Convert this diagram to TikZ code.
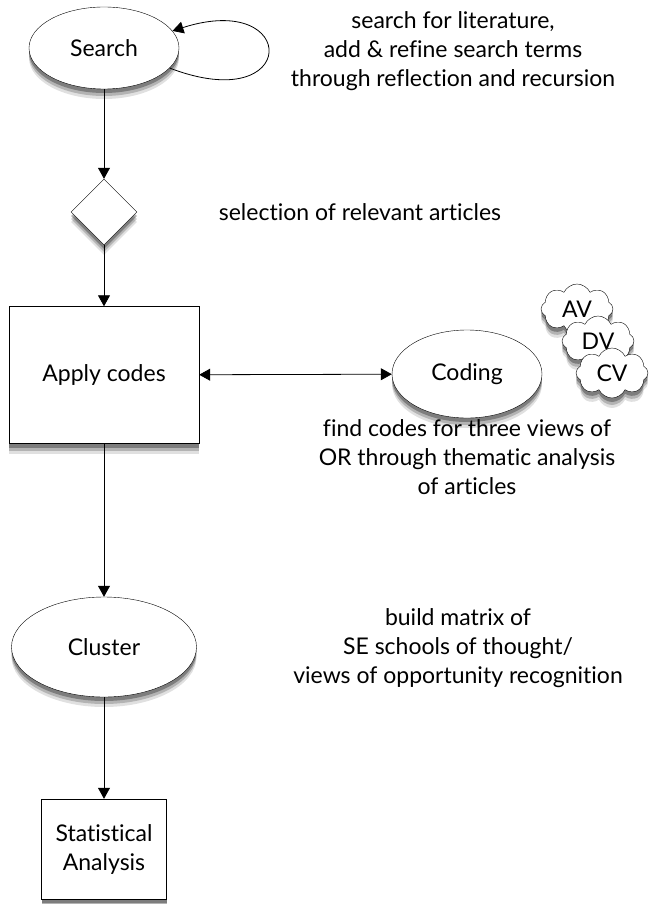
\documentclass[tikz,border=0pt]{standalone}
\usepackage{fontspec}
\setmainfont{Lato}[Ligatures=NoCommon]
\usepackage{tikz}
\usetikzlibrary{shapes.geometric,shapes.symbols,shadows,arrows.meta}

\begin{document}
\begin{tikzpicture}[x=1pt,y=-1pt,
    font=\fontsize{23}{29}\selectfont,
    shadowed/.style={general shadow={fill=black, shadow yshift=-10pt, opacity=0.12},
                     general shadow={fill=black, shadow yshift=-7pt, opacity=0.2},
                     general shadow={fill=black, shadow yshift=-4pt, opacity=0.3}},
    oval/.style={draw, ellipse, fill=white, shadowed, inner sep=0pt},
    box/.style={draw, rectangle, fill=white, shadowed, align=center},
    puff/.style={draw, cloud, cloud puffs=8, cloud puff arc=130, aspect=1.6, fill=white, shadowed,
        minimum width=72pt, minimum height=50pt, inner sep=0pt},
    note/.style={align=center},
    flow/.style={-{Triangle[length=11pt,width=12pt]}, thick}]
        \useasboundingbox (0,0) rectangle (648,904);

        % Search with its loop
        \node[oval, minimum width=150pt, minimum height=82pt] (search) at (104,48) {Search};
        \draw[flow] (search.-17) .. controls (300,118) and (300,-10) .. (search.14);
        \node[note] (searchtxt) at (453,51) {search for literature,\\add \& refine search terms\\through reflection and recursion};

        % Selection
        \node[draw, diamond, fill=white, shadowed, minimum width=66pt, minimum height=66pt, inner sep=0pt] (select) at (104,212) {};
        \node[note] (selecttxt) at (360,212) {selection of relevant articles};
        \draw[flow] (search) -- (select);

        % Apply codes and coding
        \node[box, minimum width=190pt, minimum height=137pt] (apply) at (104,375) {Apply codes};
        \node[oval, minimum width=150pt, minimum height=88pt] (coding) at (467,374) {Coding};
        \draw[flow] (select) -- (apply);
        \draw[{Triangle[length=11pt,width=12pt]}-{Triangle[length=11pt,width=12pt]}, thick] (apply) -- (coding);
        \node[note] (codingtxt) at (467,457) {find codes for three views of\\OR through thematic analysis\\of articles};

        % Three views
        \node[puff] (av) at (577,309) {AV};
        \node[puff] (dv) at (598,341) {DV};
        \node[puff] (cv) at (612,373) {CV};

        % Cluster
        \node[oval, minimum width=185pt, minimum height=100pt] (cluster) at (104,647) {Cluster};
        \draw[flow] (apply) -- (cluster);
        \node[note] (clustertxt) at (458,648) {build matrix of\\SE schools of thought/\\views of opportunity recognition};

        % Statistics
        \node[box, minimum width=125pt, minimum height=100pt] (stats) at (104,849) {Statistical\\Analysis};
        \draw[flow] (cluster) -- (stats);
    \end{tikzpicture}
\end{document}
